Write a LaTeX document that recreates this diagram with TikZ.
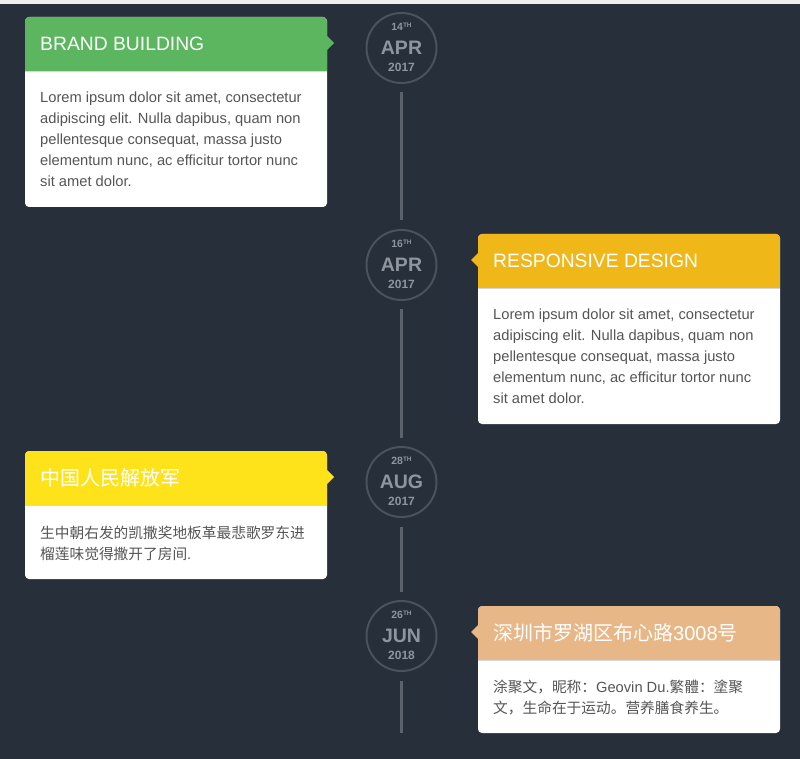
\documentclass[tikz,border=0pt]{standalone}
\usepackage{fontspec}
\setmainfont{Liberation Sans}
\newfontfamily\cjkfont{Noto Sans CJK SC}
\usetikzlibrary{positioning}
\definecolor{tlNight}{HTML}{262F3A}
\definecolor{tlStrip}{HTML}{EEEEEE}
\definecolor{tlRing}{HTML}{4A525D}
\definecolor{tlRail}{HTML}{5B626C}
\definecolor{tlDate}{HTML}{8E959F}
\definecolor{tlInk}{HTML}{555555}
\definecolor{tlRule}{HTML}{D3D6DA}
\definecolor{tlGreen}{HTML}{5CB660}
\definecolor{tlGold}{HTML}{EFB718}
\definecolor{tlYellow}{HTML}{FFE31A}
\definecolor{tlPeach}{HTML}{E8B788}
\tikzset{
 timeline/.style={x=1pt,y=-1pt,line cap=butt},
 datering/.style={circle,draw=tlRing,line width=2pt,minimum size=70pt,inner sep=0pt},
 datetext/.style={text=tlDate,inner sep=0pt},
 rail/.style={draw=tlRail,line width=3pt},
 card/.style={anchor=north west,fill=white,rounded corners=4pt,minimum width=302pt,inner sep=0pt,outer sep=0pt},
 cardrule/.style={draw=tlRule,line width=.8pt},
 headtext/.style={anchor=west,text=white,inner sep=0pt,font=\fontsize{19.3}{24}\selectfont},
 bodytext/.style={anchor=north west,text=tlInk,align=left,inner sep=0pt,font=\fontsize{14.7}{21}\selectfont}
}
\newcommand{\paintHead}[2]{% #1 card, #2 colour
 \begin{scope}
  \clip[rounded corners=4pt] (#1.north west) rectangle (#1.south east);
  \fill[#2] (#1.north west) rectangle ([yshift=-54pt]#1.north east);
 \end{scope}
 \draw[cardrule] ([yshift=-54pt]#1.north west) -- ([yshift=-54pt]#1.north east);}
\newcommand{\latin}[1]{{\normalfont #1}}

\begin{document}
\begin{tikzpicture}[timeline]
 \useasboundingbox (0,0) rectangle (800,759);
 \fill[tlNight] (0,0) rectangle (800,759);
 \fill[tlStrip] (0,0) rectangle (800,4);
 % dates
 \foreach \n/\y/\day/\mon/\yr in {1/48/14/APR/2017,2/265/16/APR/2017,3/482/28/AUG/2017,4/636/26/JUN/2018}{
  \node[datering] (d\n) at (401.5,\y) {};
  \node[datetext,font=\bfseries\fontsize{10.5}{11}\selectfont] (day\n) at ([yshift=21.5pt]d\n.center)
   {\day\raisebox{3pt}{\fontsize{6.5}{7}\selectfont TH}};
  \node[datetext,font=\bfseries\fontsize{19.5}{20}\selectfont] (mon\n) at (d\n.center) {\mon};
  \node[datetext,font=\bfseries\fontsize{12}{12}\selectfont] (yr\n) at ([yshift=-19.5pt]d\n.center) {\yr};
 }
 \coordinate (railend) at (401.5,733);
 \draw[rail] ([yshift=-8pt]d1.south) -- ([yshift=9pt]d2.north);
 \draw[rail] ([yshift=-8pt]d2.south) -- ([yshift=8pt]d3.north);
 \draw[rail] ([yshift=-9pt]d3.south) -- ([yshift=8pt]d4.north);
 \draw[rail] ([yshift=-9pt]d4.south) -- (railend);
 % cards
 \node[card,minimum height=190pt] (card1) at (25,17) {};
 \paintHead{card1}{tlGreen}
 \fill[tlGreen] (card1.north east) ++(0,19) -- ++(7,7) -- ++(-7,7) -- cycle;
 \node[headtext] (head1) at ([xshift=15pt,yshift=-27pt]card1.north west) {BRAND BUILDING};
 \node[bodytext] (text1) at ([xshift=15pt,yshift=-75pt]card1.north west)
  {Lorem ipsum dolor sit amet, consectetur\\adipiscing elit. Nulla dapibus, quam non\\pellentesque consequat, massa justo\\elementum nunc, ac efficitur tortor nunc\\sit amet dolor.};

 \node[card,minimum height=190pt] (card2) at (478,234) {};
 \paintHead{card2}{tlGold}
 \fill[tlGold] (card2.north west) ++(0,19) -- ++(-7,7) -- ++(7,7) -- cycle;
 \node[headtext] (head2) at ([xshift=15pt,yshift=-27pt]card2.north west) {RESPONSIVE DESIGN};
 \node[bodytext] (text2) at ([xshift=15pt,yshift=-75pt]card2.north west)
  {Lorem ipsum dolor sit amet, consectetur\\adipiscing elit. Nulla dapibus, quam non\\pellentesque consequat, massa justo\\elementum nunc, ac efficitur tortor nunc\\sit amet dolor.};

 \node[card,minimum height=128pt] (card3) at (25,451) {};
 \paintHead{card3}{tlYellow}
 \fill[tlYellow] (card3.north east) ++(0,19) -- ++(7,7) -- ++(-7,7) -- cycle;
 \node[headtext,font=\cjkfont\fontsize{20}{24}\selectfont] (head3) at ([xshift=15pt,yshift=-27pt]card3.north west) {中国人民解放军};
 \node[bodytext,font=\cjkfont\fontsize{14.7}{21}\selectfont] (text3) at ([xshift=15pt,yshift=-75pt]card3.north west)
  {生中朝右发的凯撒奖地板革最悲歌罗东进\\榴莲味觉得撒开了房间\latin{.}};

 \node[card,minimum height=127pt] (card4) at (478,606) {};
 \paintHead{card4}{tlPeach}
 \fill[tlPeach] (card4.north west) ++(0,19) -- ++(-7,7) -- ++(7,7) -- cycle;
 \node[headtext,font=\cjkfont\fontsize{20}{24}\selectfont] (head4) at ([xshift=15pt,yshift=-27pt]card4.north west) {深圳市罗湖区布心路\latin{3008}号};
 \node[bodytext,font=\cjkfont\fontsize{14.7}{21}\selectfont] (text4) at ([xshift=15pt,yshift=-74pt]card4.north west)
  {涂聚文，昵称：\latin{Geovin Du.}繁體：塗聚\\文，生命在于运动。营养膳食养生。};
\end{tikzpicture}
\end{document}
